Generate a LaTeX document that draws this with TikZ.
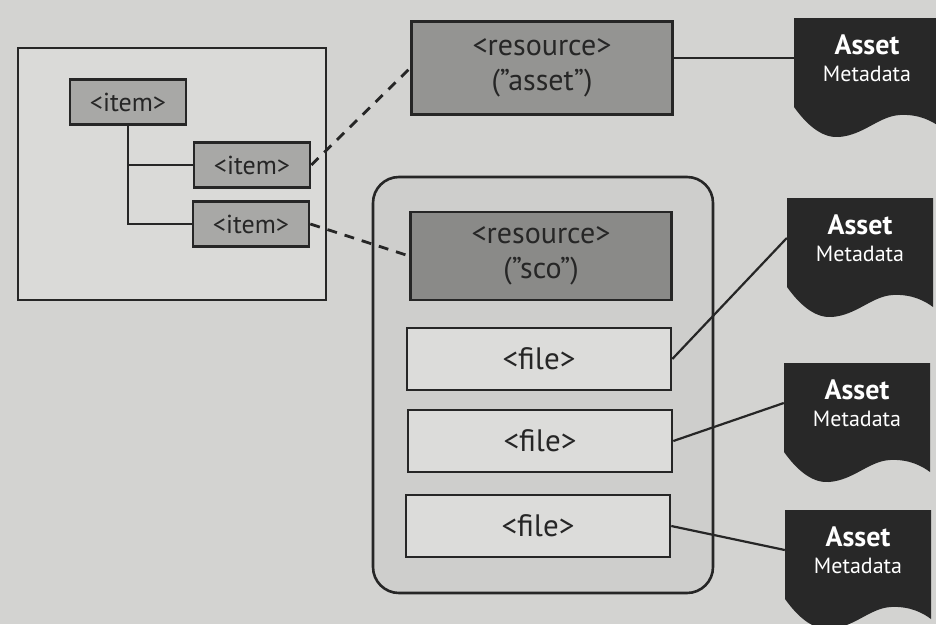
\documentclass[tikz,border=0pt]{standalone}
\usepackage{fontspec}
\setmainfont{PT Sans}
\usetikzlibrary{positioning, calc}
\definecolor{paper}{RGB}{211,211,209}
\definecolor{ink}{RGB}{38,38,38}
\definecolor{pane}{RGB}{218,218,216}
\definecolor{tray}{RGB}{206,206,204}
\definecolor{itemgray}{RGB}{168,168,166}
\definecolor{resgray}{RGB}{148,148,146}
\definecolor{scogray}{RGB}{138,138,136}
\definecolor{filegray}{RGB}{220,220,218}
\definecolor{docdark}{RGB}{40,40,40}

\begin{document}
\begin{tikzpicture}[
  x=1pt, y=-1pt,
  box/.style={draw=ink, line width=2.6pt, text=ink, inner sep=0pt},
  itm/.style={box, fill=itemgray, minimum width=116pt, minimum height=45pt,
              font=\fontsize{26}{28}\selectfont},
  res/.style={box, minimum width=261pt, align=center,
              font=\fontsize{30}{35}\selectfont},
  fil/.style={box, fill=filegray, minimum width=264pt, minimum height=62pt,
              font=\fontsize{31}{33}\selectfont},
  lnk/.style={draw=ink, line width=2.2pt},
  dsh/.style={draw=ink, line width=2.8pt, dash pattern=on 10pt off 8pt},
  meta/.style={text=white, align=center, minimum width=146pt, inner sep=0pt,
               font=\fontsize{22}{27}\selectfont}]
  \useasboundingbox (0,0) rectangle (936,624);
  \fill[paper] (0,0) rectangle (936,624);
  % content package
  \node[box, fill=pane, minimum width=308pt, minimum height=252pt] (org) at (172,174) {};
  \node[itm] (i1) at (128,102) {<item>};
  \node[itm] (i2) at (252,165) {<item>};
  \node[itm] (i3) at (251,224) {<item>};
  \draw[lnk] (i1) |- (i2);
  \draw[lnk] (i1) |- (i3);
  % resources
  \node[res, fill=resgray, minimum height=93pt] (r1) at (542,68) {<resource>\\(”asset”)};
  \node[box, fill=tray, rounded corners=26pt, minimum width=340pt,
        minimum height=416pt] (pkg) at (543,385) {};
  \node[res, fill=scogray, minimum height=88pt] (r2) at (541,256) {<resource>\\(”sco”)};
  \node[fil] (f1) at (539,359) {<file>};
  \node[fil] (f2) at (540,441) {<file>};
  \node[fil] (f3) at (538,526) {<file>};
  % metadata sheets
  \foreach \n/\x/\y in {d1/794/18, d2/787/198, d3/784/363, d4/785/510}{
    \begin{scope}[shift={(\x,\y)}]
      \fill[docdark] (0,0) -- (146,0) -- (146,109)
        .. controls (138,103) and (125,96) .. (106,97)
        .. controls (85,98) and (70,117) .. (45,119)
        .. controls (30,120) and (15,110) .. (0,89) -- cycle;
      \node[meta] (\n) at (73,40) {{\bfseries\fontsize{28}{27}\selectfont Asset}\\Metadata};
    \end{scope}
  }
  \draw[dsh] (i2.east) -- (r1.west);
  \draw[dsh] (i3.east) -- (r2.west);
  \draw[lnk] (d1.west -| r1.east) -- (d1.west);
  \draw[lnk] (f1.east) -- (d2.west);
  \draw[lnk] (f2.east) -- (d3.west);
  \draw[lnk] (f3.east) -- (d4.west);
\end{tikzpicture}
\end{document}
